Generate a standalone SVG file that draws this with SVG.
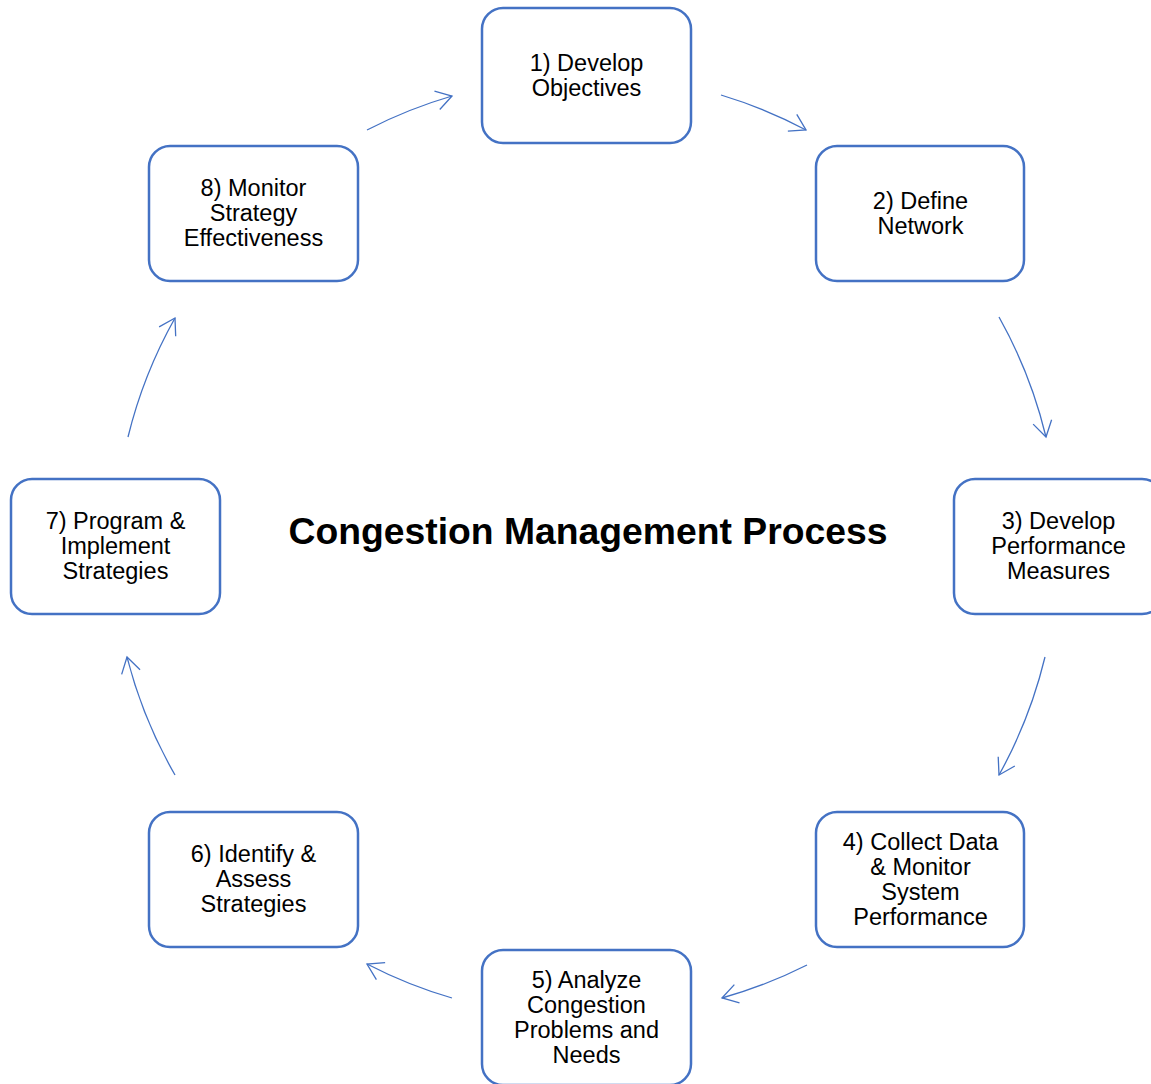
<svg xmlns="http://www.w3.org/2000/svg" width="1151" height="1084" viewBox="0 0 1151 1084">
<style>
.box{fill:#FFFFFF;stroke:#4472C4;stroke-width:2.5}
.lbl{font-family:"Liberation Sans",Arial,sans-serif;font-size:23.5px;fill:#000000;text-anchor:middle}
.title{font-family:"Liberation Sans",Arial,sans-serif;font-size:37.3px;font-weight:bold;fill:#000000;text-anchor:middle}
.arc{fill:none;stroke:#4472C4;stroke-width:1.3;marker-end:url(#ah)}
</style>
<defs>
<marker id="ah" markerUnits="userSpaceOnUse" orient="auto" markerWidth="40" markerHeight="40" viewBox="-20 -20 40 40" refX="0" refY="0" overflow="visible">
<path d="M-15.5,-9.5 L0,0 L-15.5,9.5" fill="none" stroke="#4472C4" stroke-width="1.3"/>
</marker>
</defs>
<rect width="1151" height="1084" fill="#FFFFFF"/>
<g id="connectors">
<path class="arc" d="M721,95 A471,471 0 0 1 806,130"/>
<path class="arc" d="M999,317 A471,471 0 0 1 1046,437"/>
<path class="arc" d="M1045,657 A471,471 0 0 1 999,775"/>
<path class="arc" d="M807,965 A471,471 0 0 1 722,998"/>
<path class="arc" d="M452,998 A471,471 0 0 1 367,964"/>
<path class="arc" d="M175,775 A471,471 0 0 1 127,657"/>
<path class="arc" d="M128,437 A471,471 0 0 1 175,318"/>
<path class="arc" d="M367,130 A471,471 0 0 1 452,96"/>
</g>
<g id="title"><text class="title" x="588" y="544">Congestion Management Process</text></g>
<g id="node1">
<rect class="box" x="482" y="8" width="209" height="135" rx="21"/>
<text class="lbl" x="586.5" y="70.5">1) Develop</text>
<text class="lbl" x="586.5" y="95.5">Objectives</text>
</g>
<g id="node2">
<rect class="box" x="816" y="146" width="208" height="135" rx="21"/>
<text class="lbl" x="920.5" y="208.5">2) Define</text>
<text class="lbl" x="920.5" y="233.5">Network</text>
</g>
<g id="node3">
<rect class="box" x="954" y="479" width="209" height="135" rx="21"/>
<text class="lbl" x="1058.5" y="529">3) Develop</text>
<text class="lbl" x="1058.5" y="554">Performance</text>
<text class="lbl" x="1058.5" y="579">Measures</text>
</g>
<g id="node4">
<rect class="box" x="816" y="812" width="208" height="135" rx="21"/>
<text class="lbl" x="920.5" y="849.5">4) Collect Data</text>
<text class="lbl" x="920.5" y="874.5">&amp; Monitor</text>
<text class="lbl" x="920.5" y="899.5">System</text>
<text class="lbl" x="920.5" y="924.5">Performance</text>
</g>
<g id="node5">
<rect class="box" x="482" y="950" width="209" height="135" rx="21"/>
<text class="lbl" x="586.5" y="988">5) Analyze</text>
<text class="lbl" x="586.5" y="1013">Congestion</text>
<text class="lbl" x="586.5" y="1038">Problems and</text>
<text class="lbl" x="586.5" y="1063">Needs</text>
</g>
<g id="node6">
<rect class="box" x="149" y="812" width="209" height="135" rx="21"/>
<text class="lbl" x="253.5" y="862">6) Identify &amp;</text>
<text class="lbl" x="253.5" y="887">Assess</text>
<text class="lbl" x="253.5" y="912">Strategies</text>
</g>
<g id="node7">
<rect class="box" x="11" y="479" width="209" height="135" rx="21"/>
<text class="lbl" x="115.5" y="529">7) Program &amp;</text>
<text class="lbl" x="115.5" y="554">Implement</text>
<text class="lbl" x="115.5" y="579">Strategies</text>
</g>
<g id="node8">
<rect class="box" x="149" y="146" width="209" height="135" rx="21"/>
<text class="lbl" x="253.5" y="196">8) Monitor</text>
<text class="lbl" x="253.5" y="221">Strategy</text>
<text class="lbl" x="253.5" y="246">Effectiveness</text>
</g>
</svg>
